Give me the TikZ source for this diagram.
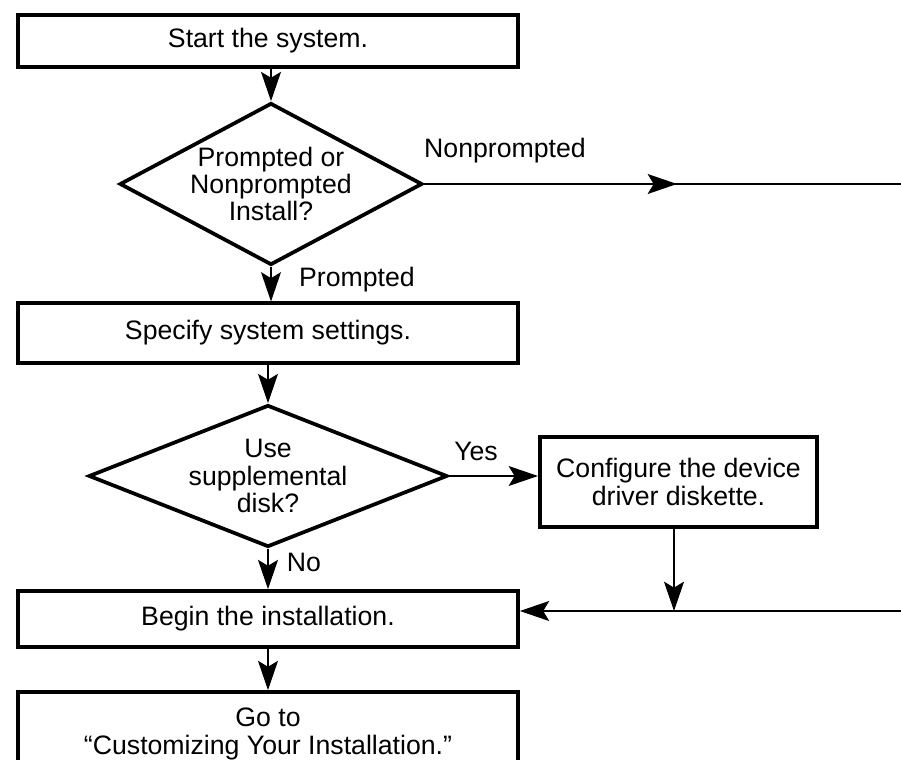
\documentclass[tikz,border=0pt]{standalone}
\usepackage{fontspec}
\setmainfont{Liberation Sans}
\usetikzlibrary{shapes.geometric,arrows.meta}
\newcommand{\flowfont}{\fontsize{20}{20.5}\selectfont}

\begin{document}
\begin{tikzpicture}[x=0.75pt,y=-0.75pt,
    every node/.style={font=\flowfont},
    box/.style={draw,line width=2.8pt,minimum width=375pt,align=center},
    decision/.style={draw,diamond,line width=2.8pt,align=center,inner sep=0pt},
    flow/.style={line width=0.9pt,-{Stealth[length=22pt,width=15pt,inset=4.5pt]}},
    wire/.style={line width=0.9pt}]
  \useasboundingbox (0,0) rectangle (901,760);

  \node[box,minimum height=39.5pt] (start) at (268,41) {Start the system.};
  \node[decision,minimum width=227pt,minimum height=121.5pt,aspect=1.87]
    (mode) at (271,184) {Prompted or\\Nonprompted\\Install?};
  \node[box,minimum height=44.5pt] (spec) at (268,333) {Specify system settings.};
  \node[decision,minimum width=269pt,minimum height=106.5pt,aspect=2.53]
    (supp) at (268,476) {Use\\supplemental\\disk?};
  \node[box,minimum width=208pt,minimum height=68pt] (cfg) at (678.5,482)
    {Configure the device\\driver diskette.};
  \node[box,minimum height=42pt] (inst) at (268,619) {Begin the installation.};
  \node[box,minimum height=63pt] (goto) at (268,734)
    {Go to\\“Customizing Your Installation.”}; % runs off the page

  % branch labels
  \node (lnp)  at (505,151) {Nonprompted};
  \node (lpr)  at (357,280) {Prompted};
  \node (lyes) at (476,451) {Yes};
  \node (lno)  at (304,562) {No};

  \coordinate (npmid) at (677,184);
  \coordinate (npend) at (901,184);
  \coordinate (rin)   at (901,611);
  \coordinate (join)  at (674,611);

  \draw[flow] (mode.north |- start.south) -- (mode.north);
  \draw[flow] (mode.south) -- (mode.south |- spec.north);
  \draw[wire] (mode.east) -- (npend);
  \draw[flow] (mode.east) -- (npmid);
  \draw[flow] (supp.north |- spec.south) -- (supp.north);
  \draw[flow] (supp.east) -- (supp.east -| cfg.west);
  \draw[flow] (supp.south) -- (supp.south |- inst.north);
  \draw[flow] (cfg.south -| join) -- (join);
  \draw[flow] (rin) -- (rin -| inst.east);
  \draw[flow] (supp.south |- inst.south) -- (supp.south |- goto.north);
\end{tikzpicture}
\end{document}
